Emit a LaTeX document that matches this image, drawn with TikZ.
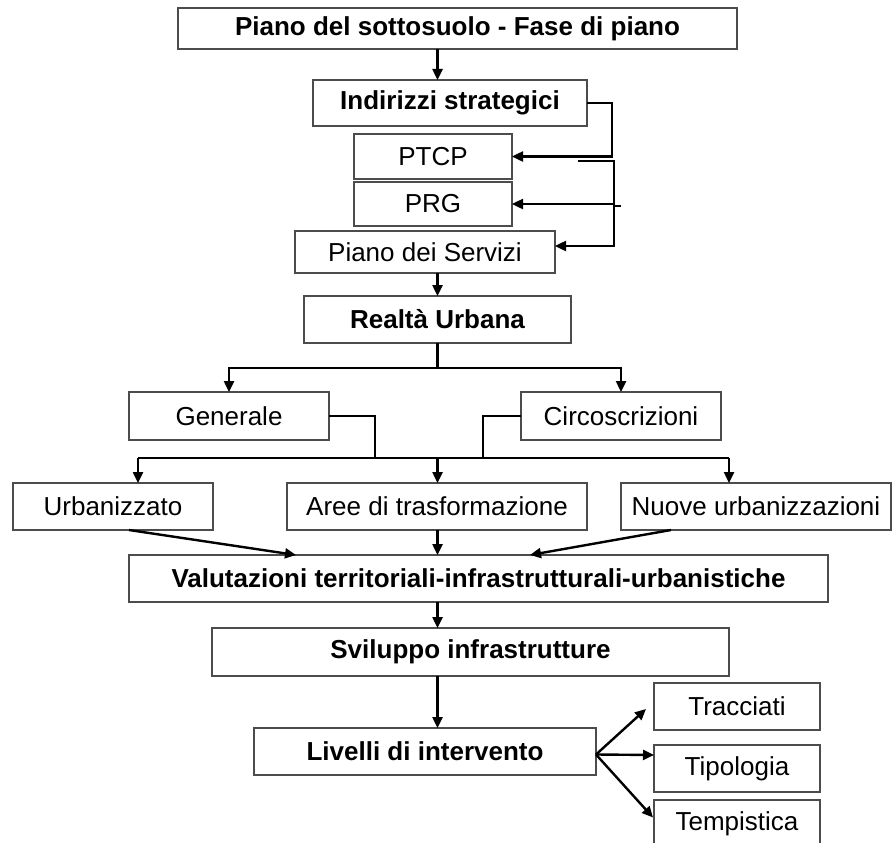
\documentclass[tikz,border=0pt]{standalone}
\usepackage{fontspec}
\setmainfont{Liberation Sans}
\usetikzlibrary{positioning,arrows.meta}

\begin{document}
\begin{tikzpicture}[%
	x=1pt, y=-1pt,
	>={Triangle[length=11pt,width=10pt]},
	main node/.style={
		rectangle,
		draw=black!70,
		line width=1.2pt,
		minimum height=47pt,
		inner sep=0pt,
		outer sep=0pt,
		font=\fontsize{26}{31}\selectfont,
		align=center
	},
	bold node/.style={
		main node,
		font=\fontsize{26}{31}\selectfont\bfseries
	},
	link/.style={draw,line width=2.4pt,->},
	thin link/.style={draw,line width=1.2pt},
]
	\useasboundingbox (0,0) rectangle (892,843);
	\coordinate (axis) at (437.5,0);
	\node[bold node, minimum width=559pt, minimum height=41pt] (1) at (457.5,28.5) {Piano del sottosuolo - Fase di piano};
	\node[bold node, minimum width=274pt, minimum height=46pt] (2) [below=31pt of 1, xshift=-7.5pt] {Indirizzi strategici};
	\node[main node, minimum width=158pt, minimum height=45pt] (3) [below=8pt of 2, xshift=-17pt] {PTCP};
	\node[main node, minimum width=158pt, minimum height=44pt] (4) [below=3pt of 3] {PRG};
	\node[main node, minimum width=260pt, minimum height=42pt] (5) [below=5pt of 4, xshift=-8pt] {Piano dei Servizi};
	\node[bold node, minimum width=267pt] (6) [below=23pt of 5, xshift=12.5pt] {Realtà Urbana};
	\node[main node, minimum width=200pt, minimum height=48pt] (7) [below=49pt of 6, xshift=-208.5pt] {Generale};
	\node[main node, minimum width=200pt, minimum height=48pt] (8) [below=49pt of 6, xshift=183.5pt] {Circoscrizioni};
	\node[main node, minimum width=300pt] (10) [below=43pt of 7, xshift=208pt] {Aree di trasformazione};
	\node[main node, minimum width=200pt] (9) [left=74pt of 10] {Urbanizzato};
	\node[main node, minimum width=270pt] (11) [right=34pt of 10] {Nuove urbanizzazioni};
	\node[bold node, minimum width=699pt] (12) [below=25pt of 10, xshift=41.5pt] {Valutazioni territoriali-infrastrutturali-urbanistiche};
	\node[bold node, minimum width=517pt, minimum height=48pt] (13) [below=26pt of 12, xshift=-8pt] {Sviluppo infrastrutture};
	\node[bold node, minimum width=342pt] (14) [below=52pt of 13, xshift=-45.5pt] {Livelli di intervento};
	\node[main node, minimum width=166pt] (15) [right=58pt of 14, yshift=45pt] {Tracciati};
	\node[main node, minimum width=166pt] (16) [below=15pt of 15] {Tipologia};
	\node[main node, minimum width=166pt] (17) [below=8pt of 16] {Tempistica};
	% bends and branch points
	\coordinate (r1) at (612,0);
	\coordinate (r2) at (614,0);
	\coordinate (c2) at (578,161);
	\coordinate (c3) at (621,206);
	\coordinate (s1) at (437.5,368);
	\coordinate (g1) at (375,458);
	\coordinate (h1) at (483,458);
	\coordinate (b1) at (138,458);
	\coordinate (b2) at (437.5,458);
	\coordinate (b3) at (729,458);
	\coordinate (v1) at (296,555);
	\coordinate (v3) at (530,555);
	\path[link] (1.south -| axis) -- (2.north -| axis);
	\path[link] (2.east) -- (2.east -| r1) -- (3.east -| r1) -- (3.east);
	\path[link] (c2) -- (c2 -| r2) -- (4.east -| r2) -- (4.east);
	\path[link] (c3) -- (c3 -| r2) -- ([yshift=6pt]5.east -| r2) -- ([yshift=6pt]5.east);
	\path[link] (5.south -| axis) -- (6.north -| axis);
	\path[link] (6.south -| axis) -- (s1) -| (7.north);
	\path[link] (s1) -| (8.north);
	\path[thin link] (7.east) -| (g1);
	\path[thin link] (8.west) -| (h1);
	\path[thin link] (b1) -- (b3);
	\path[link] (b1) -- (9.north -| b1);
	\path[link] (b2) -- (10.north -| b2);
	\path[link] (b3) -- (11.north -| b3);
	\path[link] ([xshift=16pt]9.south) -- (v1);
	\path[link] (10.south -| axis) -- (12.north -| axis);
	\path[link] ([xshift=-85pt]11.south) -- (v3);
	\path[link] (12.south -| axis) -- (13.north -| axis);
	\path[link] (13.south -| axis) -- (14.north -| axis);
	\path[link] ([yshift=-3pt]14.east) -- ([xshift=-8pt,yshift=-2.5pt]15.west);
	\path[link] ([yshift=-3pt]14.east) -- ([yshift=13.5pt]16.west);
	\path[link] ([yshift=-3pt]14.east) -- ([xshift=-1pt,yshift=6pt]17.west);
\end{tikzpicture}
\end{document}
